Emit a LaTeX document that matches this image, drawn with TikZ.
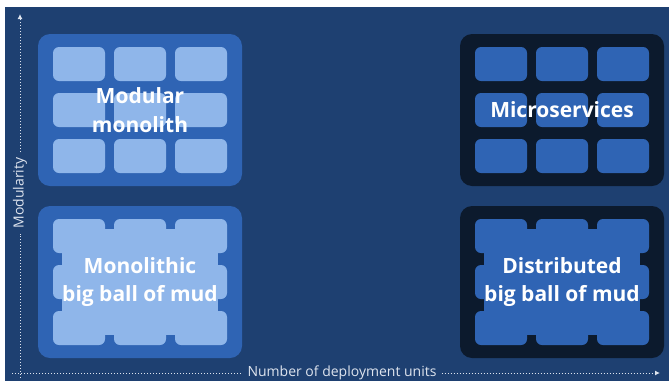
\documentclass[tikz,border=0pt]{standalone}
\usepackage{fontspec}
\setmainfont{Open Sans}
\usetikzlibrary{arrows.meta,positioning}

\definecolor{bgblue}{RGB}{30,64,113}
\definecolor{midblue}{RGB}{47,100,180}
\definecolor{lightblue}{RGB}{143,182,234}
\definecolor{darknavy}{RGB}{12,26,45}
\definecolor{axisgray}{RGB}{222,228,238}

\begin{document}
\begin{tikzpicture}[x=1pt,y=-1pt,
    panel/.style={rounded corners=12pt, minimum width=204pt, minimum height=152pt, inner sep=0pt},
    tile/.style={rounded corners=6pt, minimum width=52pt, minimum height=34pt, inner sep=0pt},
    paneltext/.style={text=white, font=\bfseries\fontsize{21}{28.5}\selectfont, align=center},
    axis/.style={dotted, line width=1pt, draw=axisgray},
    axislabel/.style={text=axisgray, font=\fontsize{14}{16}\selectfont, inner sep=5pt}]

    \useasboundingbox (0,0) rectangle (669,381);
    \fill[bgblue] (5,7) rectangle (669,381);

    % the four quadrants
    \node (modmono) [panel, fill=midblue] at (140,110) {};
    \node (micro) [panel, fill=darknavy] at (562,110) {};
    \node (monomud) [panel, fill=midblue] at (140,282) {};
    \node (distmud) [panel, fill=darknavy] at (562,282) {};

    % modules
    \foreach \dx in {-61,0,61}
        \foreach \dy in {-46,0,46} {
            \node [tile, fill=lightblue] at ([shift={(\dx,\dy)}]modmono) {};
            \node [tile, fill=midblue] at ([shift={(\dx,\dy)}]micro) {};
            \node [tile, fill=lightblue] at ([shift={(\dx,\dy)}]monomud) {};
            \node [tile, fill=midblue] at ([shift={(\dx,\dy)}]distmud) {};
        }

    % mud fills the gaps between the modules
    \fill[lightblue] ([shift={(-78,-53)}]monomud) rectangle ([shift={(78,53)}]monomud);
    \fill[midblue] ([shift={(-78,-53)}]distmud) rectangle ([shift={(78,53)}]distmud);

    \node (modmono-text) [paneltext] at (modmono) {Modular\\monolith};
    \node (micro-text) [paneltext] at (micro) {Microservices};
    \node (monomud-text) [paneltext] at (monomud) {Monolithic\\big ball of mud};
    \node (distmud-text) [paneltext] at (distmud) {Distributed\\big ball of mud};

    % axes
    \coordinate (ystart) at (20,378);
    \coordinate (ytip) at (20,14);
    \coordinate (xstart) at (12,373);
    \coordinate (xtip) at (660,373);
    \node (ylabel) [axislabel, rotate=90] at (20,193) {Modularity};
    \node (xlabel) [axislabel] at (342,373) {Number of deployment units};

    \draw[axis] (ystart) -- (ylabel.west);
    \draw[axis, -{Latex[length=5pt,width=5pt]}] (ylabel.east) -- (ytip);
    \draw[axis] (xstart) -- (xlabel.west);
    \draw[axis, -{Latex[length=5pt,width=5pt]}] (xlabel.east) -- (xtip);
\end{tikzpicture}
\end{document}
